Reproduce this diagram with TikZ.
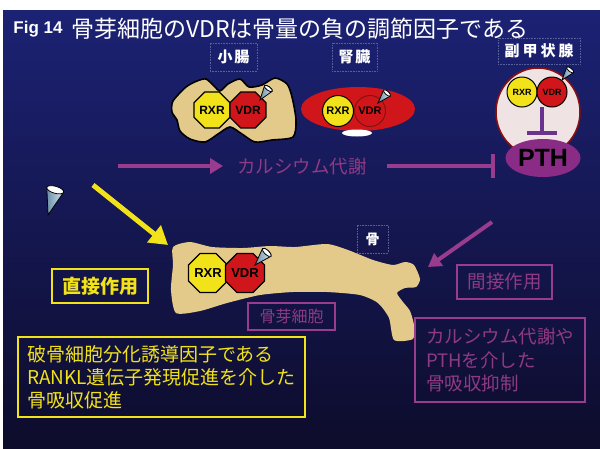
\documentclass[tikz,border=0pt]{standalone}
\usepackage{fontspec}
\setmainfont{Liberation Sans}
\newfontfamily\jp{Noto Sans CJK JP}
\usetikzlibrary{shapes.geometric,arrows.meta}

\definecolor{navyT}{HTML}{1C2274}
\definecolor{navyM}{HTML}{15185A}
\definecolor{navyB}{HTML}{0D0C2C}
\definecolor{plum}{HTML}{9A3C8E}
\definecolor{plumtext}{HTML}{8E3A84}
\definecolor{violet}{HTML}{6A3390}
\definecolor{lemon}{HTML}{F2E21A}
\definecolor{tan}{HTML}{E4CA8A}
\definecolor{redR}{HTML}{D0161A}
\definecolor{redD}{HTML}{8A1010}
\definecolor{pinkW}{HTML}{EFE3E3}
\definecolor{pthfill}{HTML}{8A2C86}
\definecolor{labelbox}{HTML}{56609A}
\definecolor{conedark}{HTML}{6E8FA8}
\definecolor{conelight}{HTML}{DCEEF6}

\newcommand\setfs[2]{\fontsize{#1}{#2}\selectfont}

\begin{document}
\begin{tikzpicture}[x=1pt,y=-1pt,
  lbl/.style={draw=labelbox, densely dotted, line width=0.6pt, text=white,
    font=\jp\bfseries\setfs{15}{15}, inner sep=0pt},
  organ/.style={fill=tan, draw=black, line width=1.6pt, line join=round},
  rxr/.style={regular polygon, regular polygon sides=8, fill=lemon, draw=black,
    line width=1.2pt, inner sep=0pt},
  vdr/.style={regular polygon, regular polygon sides=8, fill=redR, draw=black,
    line width=1.2pt, inner sep=0pt},
  rxrc/.style={circle, fill=lemon, draw=black, line width=1pt, inner sep=0pt},
  vdrc/.style={circle, fill=redR, draw=redD, line width=1pt, inner sep=0pt},
  ybox/.style={draw=lemon, line width=2pt, text=lemon, align=left, inner sep=0pt},
  pbox/.style={draw=plum, line width=2pt, text=plumtext, align=left, inner sep=0pt},
  plumarrow/.style={draw=plum, line width=4pt, -{Triangle[length=13pt,width=15pt]}},
  yarrow/.style={draw=lemon, line width=5pt, -{Triangle[length=18pt,width=21pt]}},
  ligand/.pic={
    \draw[line width=0.8pt, left color=conedark, right color=conelight]
      (0,0) -- (-5,-15) .. controls (-5,-17.5) and (5,-17.5) .. (5,-15) -- cycle;
    \draw[line width=0.8pt, fill=white] (0,-15) ellipse [x radius=5pt, y radius=2pt];
  }]

% page and backdrop
\useasboundingbox (0,0) rectangle (600,448);
\fill[white] (0,0) rectangle (600,448);
\shade[top color=navyT, middle color=navyM, bottom color=navyB] (3,10) rectangle (600,448);

% heading
\node[text=white, font=\bfseries\setfs{17}{17}, inner sep=0pt] (fig) at (38,29) {Fig 14};
\node[text=white, font=\jp\setfs{23}{23}, inner sep=0pt] (title) at (300,29)
  {骨芽細胞のVDRは骨量の負の調節因子である};

% organ labels
\node[lbl, minimum width=47pt, minimum height=28pt] (gut) at (233.5,57) {小\hspace{2pt}腸};
\node[lbl, minimum width=45pt, minimum height=28pt] (kid) at (354.5,57) {腎\hspace{2pt}臓};
\node[lbl, minimum width=82pt, minimum height=26pt] (para) at (539,51) {副\hspace{3pt}甲\hspace{3pt}状\hspace{3pt}腺};
\node[lbl, minimum width=31pt, minimum height=28pt, font=\jp\bfseries\setfs{14}{14}] (bonelbl) at (372.5,239) {骨};

% small intestine
\draw[organ] plot[smooth cycle, tension=0.45] coordinates {
  (173,101) (186,87) (197,81) (206,79) (214,86) (220,91) (228,84) (240,79)
  (249,87) (262,85) (275,78) (287,84) (292,97) (296,120) (293,137) (272,140)
  (255,142) (242,134) (230,127) (218,134) (205,142) (190,139) (180,131)
  (177,120) (172,112)};
\node[rxr, minimum size=36pt, font=\bfseries\setfs{12}{12}] (rxr1) at (212,110) {RXR};
\node[vdr, minimum size=35pt, font=\bfseries\setfs{12}{12}] (vdr1) at (248,110) {VDR};
\pic[scale=0.95, rotate=-36] at (260,100) {ligand};

% kidney
\fill[redR] (358,109) ellipse [x radius=57pt, y radius=22pt];
\fill[white] (357,133) ellipse [x radius=15pt, y radius=3.5pt];
\node[rxrc, minimum size=31pt, font=\bfseries\setfs{11}{11}] (rxr2) at (338,111) {RXR};
\node[vdrc, minimum size=31pt, font=\bfseries\setfs{11}{11}] (vdr2) at (370,111) {VDR};
\pic[scale=0.9, rotate=-42] at (378,103) {ligand};

% parathyroid
\draw[fill=pinkW, draw=redD, line width=1.5pt] (538,112) ellipse [x radius=42pt, y radius=44pt];
\node[rxrc, minimum size=30pt, font=\bfseries\setfs{9}{9}] (rxr3) at (522,92) {RXR};
\node[vdrc, draw=black, minimum size=30pt, font=\bfseries\setfs{9}{9}] (vdr3) at (552,92) {VDR};
\pic[scale=0.87, rotate=-39] at (562,80) {ligand};
\coordinate (supA) at (542,107);
\coordinate (supB) at (542,135);
\draw[draw=violet, line width=4pt, -{Bar[width=30pt]}] (supA) -- (supB);
\node[ellipse, fill=pthfill, minimum width=75pt, minimum height=38pt, inner sep=0pt,
  font=\bfseries\setfs{25}{25}] (pth) at (543,158) {PTH};

% calcium metabolism pathway
\coordinate (caA) at (118,166);
\node[text=plumtext, font=\jp\setfs{18.5}{18.5}, inner sep=0pt] (calcium) at (302,166) {カルシウム代謝};
\draw[plumarrow] (caA) -- (calcium.west) [shorten >=14pt];
\draw[draw=plum, line width=4pt, -{Bar[width=24pt]}, shorten <=20pt, shorten >=10pt]
  (calcium.east) -- (calcium.east -| pth.west);

% free ligand and direct action
\pic[scale=1.75, rotate=-16] at (48,215) {ligand};
\coordinate (yA) at (93,185);
\coordinate (yB) at (168,245);
\draw[yarrow] (yA) -- (yB);

% bone with osteoblast
\fill[tan] plot[smooth cycle, tension=0.4] coordinates {
  (173,247) (190,242) (212,247) (243,248) (270,246) (295,247) (327,244)
  (348,250) (373,260) (393,265) (405,262) (414,265) (420,279) (416,287)
  (405,288) (397,293) (403,302) (410,311) (414,325) (413,339) (394,340)
  (389,318) (378,303) (360,295) (327,292) (293,292) (260,295) (227,303)
  (200,311) (176,313) (171,290) (173,265)};
\node[rxr, minimum size=34pt, font=\bfseries\setfs{13}{13}] (rxr4) at (208,273) {RXR};
\node[vdr, minimum size=34pt, font=\bfseries\setfs{13}{13}] (vdr4) at (245,273) {VDR};
\pic[scale=1.15, rotate=-43] at (255,265) {ligand};

% indirect action arrow
\coordinate (pA) at (492,222);
\coordinate (pB) at (428,267);
\draw[plumarrow] (pA) -- (pB);

% captions
\node[pbox, minimum width=87pt, minimum height=27pt, font=\jp\setfs{16}{16}] (obl) at (291.5,316.5) {骨芽細胞};
\node[ybox, minimum width=96pt, minimum height=34pt, font=\jp\bfseries\setfs{19}{19}] (direct) at (100,286) {直接作用};
\node[pbox, minimum width=95pt, minimum height=34pt, font=\jp\setfs{18.5}{18.5}] (indirect) at (504.5,282) {間接作用};
\node[ybox, minimum width=287pt, minimum height=80pt, font=\jp\setfs{19}{23}] (rankl) at (161.5,377)
  {破骨細胞分化誘導因子である\\RANKL遺伝子発現促進を介した\\骨吸収促進};
\node[pbox, minimum width=170pt, minimum height=84pt, font=\jp\setfs{18.5}{23.5}] (pthnote) at (500,360)
  {カルシウム代謝や\\PTHを介した\\骨吸収抑制};
\end{tikzpicture}
\end{document}
